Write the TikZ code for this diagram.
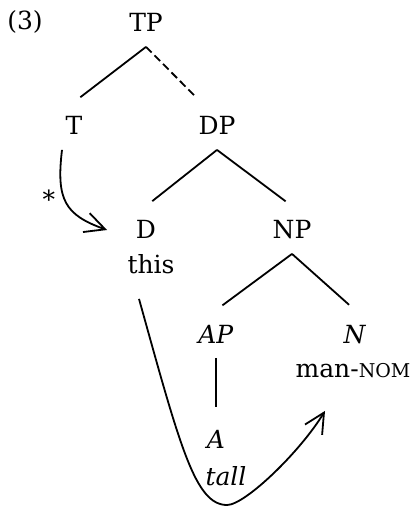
\documentclass[tikz,border=0pt]{standalone}
\usepackage{fontspec}
\setmainfont{DejaVu Serif}
\usepackage{tikz}
\usetikzlibrary{positioning,arrows.meta}

\begin{document}
\begin{tikzpicture}[x=0.5pt, y=-0.5pt, font=\fontsize{12.5}{15}\selectfont, line width=0.9pt,
		cat/.style={inner xsep=1pt, inner ysep=7pt, text height=9pt, text depth=0pt},
		branch/.style={shorten >=4pt},
		mv/.style={-{Straight Barb[length=10pt, width=10pt]}}]
		\useasboundingbox (0,0) rectangle (413,507);
		\node[cat] (ex) at (25,21) {(3)};
		\node[cat] (tp) at (146,23) {TP};
		\node[cat] (t) at (74,126) {T};
		\node[cat] (dp) at (217,126) {DP};
		\node[cat] (d) at (146,230) {D};
		\node[cat] (this) at (151,264) {this};
		\node[cat] (np) at (292,230) {NP};
		\node[cat] (ap) at (216,334) {\textit{AP}};
		\node[cat] (n) at (355,334) {\textit{N}};
		\node[cat] (man) at (353,368) {man-{\fontsize{9.5}{11}\selectfont NOM}};
		\node[cat] (a) at (216,439) {\textit{A}};
		\node[cat] (tall) at (226,476) {\textit{tall}};
		% branches
		\draw[branch] (tp.south) -- (t.north);
		\draw[branch, dash pattern=on 4pt off 2pt] (tp.south) -- ([xshift=-8pt]dp.north);
		\draw[branch] (dp.south) -- (d.north);
		\draw[branch] (dp.south) -- (np.north);
		\draw[branch] (np.south) -- (ap.north);
		\draw[branch] (np.south) -- (n.north);
		\draw[branch] (ap.south) -- (a.north);
		% movement
		\draw[mv] ([xshift=-6pt]t.south) .. controls (56,200) and (65,215) .. ([xshift=-13pt]d.west)
			node[pos=0.45, left=1pt] (star) {*};
		\draw[mv] ([shift={(-12,11)}]this.south) .. controls (180,446) and (195,505) .. (227,505)
			.. controls (245,505) and (300,452) .. ([shift={(-28,19)}]man.south);
	\end{tikzpicture}
\end{document}
